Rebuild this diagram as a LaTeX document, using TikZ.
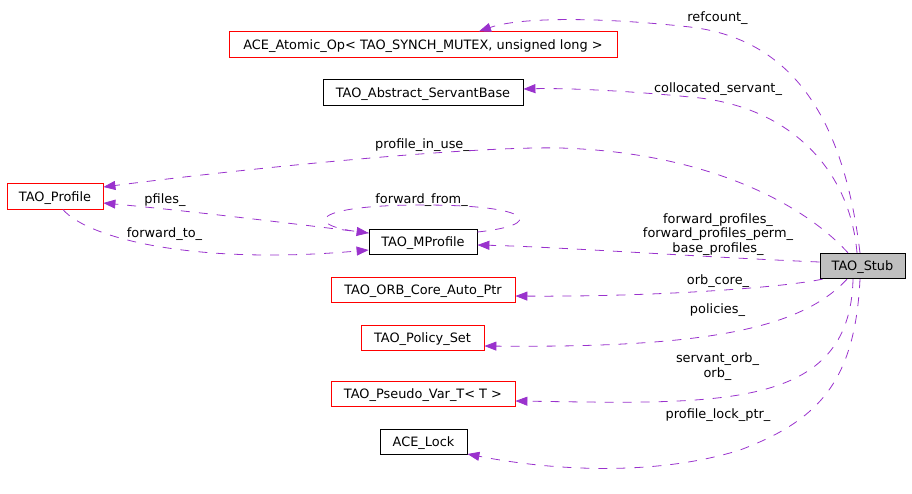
\documentclass[tikz,border=0pt]{standalone}
\usepackage{fontspec}
\setmainfont{DejaVu Sans}
\usetikzlibrary{arrows.meta}
\definecolor{edgepurple}{HTML}{9A32CD}
\definecolor{stubgray}{HTML}{BFBFBF}

\begin{document}
\begin{tikzpicture}[x=1pt, y=-1pt, font=\fontsize{12.9}{14.5}\selectfont,
	cls/.style={draw=black, line width=0.8pt, minimum height=25.5pt, inner sep=0pt, text height=9pt, text depth=0pt},
	redcls/.style={cls, draw=red},
	member/.style={draw=edgepurple, line width=0.8pt, dash pattern=on 9pt off 9pt, -{Triangle[length=12pt,width=9pt]}},
	lbl/.style={anchor=base, inner sep=0pt}]
	\useasboundingbox (0,0) rectangle (912,493);

	\node[redcls, minimum width=388pt] (atomic) at (423,44.5) {ACE\_Atomic\_Op< TAO\_SYNCH\_MUTEX, unsigned long >};
	\node[cls, minimum width=200pt] (servant) at (423,92.5) {TAO\_Abstract\_ServantBase};
	\node[redcls, minimum width=96pt] (profile) at (55,196.5) {TAO\_Profile};
	\node[cls, minimum width=108pt] (mprofile) at (423,242) {TAO\_MProfile};
	\node[cls, fill=stubgray, minimum width=85pt] (stub) at (862.5,266) {TAO\_Stub};
	\node[redcls, minimum width=184pt] (orbcore) at (423,290) {TAO\_ORB\_Core\_Auto\_Ptr};
	\node[redcls, minimum width=123pt] (policy) at (422.5,338) {TAO\_Policy\_Set};
	\node[redcls, minimum width=184pt] (pseudo) at (423,394) {TAO\_Pseudo\_Var\_T< T >};
	\node[cls, minimum width=87pt] (lock) at (423.5,442) {ACE\_Lock};

	\node[lbl] (lrefcount) at (717.5,21) {refcount\_};
	\node[lbl] (lcolloc) at (718,92) {collocated\_servant\_};
	\node[lbl] (linuse) at (422.5,148) {profile\_in\_use\_};
	\node[lbl] (lfrom) at (421.5,203) {forward\_from\_};
	\node[lbl] (lpfiles) at (165,203) {pfiles\_};
	\node[lbl] (lto) at (164.5,237) {forward\_to\_};
	\node[lbl, align=center] (lfwd) at (718,252) {forward\_profiles\_\\forward\_profiles\_perm\_\\base\_profiles\_};
	\node[lbl] (lcore) at (718,284.5) {orb\_core\_};
	\node[lbl] (lpolicies) at (717.5,313) {policies\_};
	\node[lbl, align=center] (lorb) at (717.5,377) {servant\_orb\_\\orb\_};
	\node[lbl] (llock) at (718,418) {profile\_lock\_ptr\_};

	\draw[member] ([xshift=-2.5pt]stub.north) .. controls (845,130) and (800,40) .. (690,27)
		.. controls (600,17) and (520,17) .. ([xshift=56pt]atomic.north);
	\draw[member] ([xshift=-5.5pt]stub.north) .. controls (850,170) and (790,105) .. (690,97)
		.. controls (620,90) and (560,88) .. ([yshift=3.5pt]servant.east);
	\draw[member] ([xshift=-14.5pt]stub.north) .. controls (800,200) and (700,152) .. (560,148)
		.. controls (470,146) and (250,168) .. ([yshift=9.5pt]profile.east);
	\draw[member] ([yshift=4pt]stub.west) .. controls (700,257) and (560,247) .. ([yshift=-3pt]mprofile.east);
	\draw[member] ([xshift=-40pt]stub.south) .. controls (780,288) and (650,297) .. ([yshift=-6pt]orbcore.east);
	\draw[member] ([xshift=-15.5pt]stub.south) .. controls (800,330) and (700,348) .. ([yshift=-8pt]policy.east);
	\draw[member] ([xshift=-9.5pt]stub.south) .. controls (850,410) and (720,404) .. ([yshift=-7pt]pseudo.east);
	\draw[member] ([xshift=-2.5pt]stub.south) .. controls (855,380) and (820,420) .. (740,450)
		.. controls (660,475) and (560,472) .. ([yshift=-12pt]lock.east);

	\draw[member] ([yshift=9pt]mprofile.west) .. controls (280,222) and (180,210) .. ([yshift=-6.5pt]profile.east);
	\draw[member] ([xshift=8pt]profile.south) .. controls (90,240) and (200,265) .. ([yshift=-8pt]mprofile.west);
	\draw[member] ([yshift=10pt]mprofile.east) .. controls (545,225) and (535,205) .. (423,205)
		.. controls (310,205) and (305,225) .. ([yshift=9pt]mprofile.west);
\end{tikzpicture}
\end{document}
